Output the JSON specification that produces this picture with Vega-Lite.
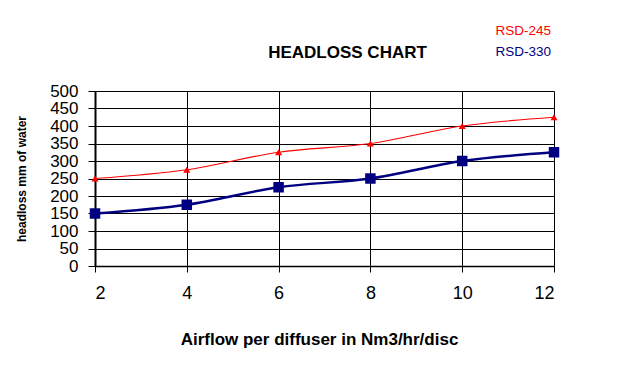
{
  "$schema": "https://vega.github.io/schema/vega-lite/v6.json",
  "autosize": "none",
  "width": 459,
  "height": 175,
  "padding": {"left": 95, "top": 91, "right": 66, "bottom": 118},
  "background": "white",
  "title": {
    "text": "HEADLOSS CHART",
    "font": "Liberation Sans",
    "fontSize": 17,
    "fontWeight": "bold",
    "color": "black",
    "frame": "group",
    "anchor": "middle",
    "dx": 23,
    "baseline": "alphabetic",
    "offset": -51
  },
  "data": {
    "values": [
      {"airflow": 2, "headloss": 250, "series": "RSD-245"},
      {"airflow": 4, "headloss": 275, "series": "RSD-245"},
      {"airflow": 6, "headloss": 325, "series": "RSD-245"},
      {"airflow": 8, "headloss": 350, "series": "RSD-245"},
      {"airflow": 10, "headloss": 400, "series": "RSD-245"},
      {"airflow": 12, "headloss": 425, "series": "RSD-245"},
      {"airflow": 2, "headloss": 150, "series": "RSD-330"},
      {"airflow": 4, "headloss": 175, "series": "RSD-330"},
      {"airflow": 6, "headloss": 225, "series": "RSD-330"},
      {"airflow": 8, "headloss": 250, "series": "RSD-330"},
      {"airflow": 10, "headloss": 300, "series": "RSD-330"},
      {"airflow": 12, "headloss": 325, "series": "RSD-330"}
    ]
  },
  "encoding": {
    "x": {
      "field": "airflow",
      "type": "quantitative",
      "scale": {"domain": [2, 12], "nice": false, "zero": false},
      "axis": {
        "values": [2, 4, 6, 8, 10, 12],
        "title": "Airflow per diffuser in Nm3/hr/disc",
        "titleFont": "Liberation Sans",
        "titleFontSize": 17,
        "titleFontWeight": "bold",
        "titleColor": "black",
        "titleAlign": "center",
        "titleBaseline": "alphabetic",
        "titleX": 224,
        "titleY": 78,
        "labelFont": "Liberation Sans",
        "labelFontSize": 18,
        "labelColor": "black",
        "labelPadding": 12,
        "tickSize": 6,
        "tickColor": "black",
        "domainColor": "black",
        "domainWidth": 1.5,
        "grid": true,
        "gridColor": "black",
        "gridWidth": 1,
        "gridOpacity": 1
      }
    },
    "y": {
      "field": "headloss",
      "type": "quantitative",
      "scale": {"domain": [0, 500], "nice": false},
      "axis": {
        "values": [0, 50, 100, 150, 200, 250, 300, 350, 400, 450, 500],
        "title": "headloss mm of water",
        "titleFont": "Liberation Sans",
        "titleFontSize": 12,
        "titleFontWeight": "bold",
        "titleColor": "black",
        "titleAngle": -90,
        "titleAlign": "center",
        "titleBaseline": "alphabetic",
        "titleX": -70,
        "titleY": 87.5,
        "labelFont": "Liberation Sans",
        "labelFontSize": 17,
        "labelColor": "black",
        "labelPadding": 10,
        "labelOverlap": false,
        "tickSize": 7,
        "tickColor": "black",
        "domainColor": "black",
        "domainWidth": 2,
        "grid": true,
        "gridColor": "black",
        "gridWidth": 1,
        "gridOpacity": 1
      }
    },
    "color": {
      "field": "series",
      "type": "nominal",
      "scale": {"domain": ["RSD-245", "RSD-330"], "range": ["#ff0000", "#000080"]},
      "legend": {
        "title": null,
        "orient": "none",
        "legendX": 387,
        "legendY": -67,
        "padding": 0,
        "symbolSize": 0,
        "symbolOpacity": 0,
        "symbolStrokeWidth": 0,
        "labelOffset": 0,
        "labelFont": "Liberation Sans",
        "labelFontSize": 13.5,
        "rowPadding": 6,
        "encode": {
          "labels": {"update": {"fill": {"scale": "color", "field": "value"}}}
        }
      }
    }
  },
  "layer": [
    {
      "mark": {"type": "line", "interpolate": "monotone"},
      "encoding": {
        "strokeWidth": {
          "field": "series",
          "type": "nominal",
          "scale": {"domain": ["RSD-245", "RSD-330"], "range": [1.2, 2.5]},
          "legend": null
        }
      }
    },
    {
      "mark": {"type": "point", "filled": true, "opacity": 1},
      "encoding": {
        "shape": {
          "field": "series",
          "type": "nominal",
          "scale": {"domain": ["RSD-245", "RSD-330"], "range": ["triangle-up", "square"]},
          "legend": null
        },
        "size": {
          "field": "series",
          "type": "nominal",
          "scale": {"domain": ["RSD-245", "RSD-330"], "range": [50, 110]},
          "legend": null
        }
      }
    }
  ],
  "config": {
    "view": {"stroke": null}
  }
}
